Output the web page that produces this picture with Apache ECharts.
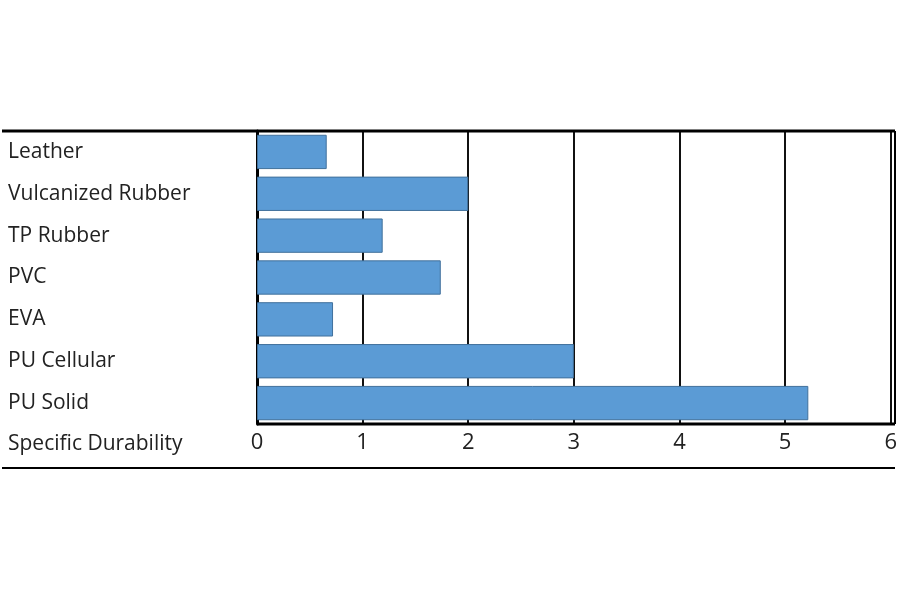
<!DOCTYPE html><html><head><meta charset="utf-8">
<script src="https://cdn.jsdelivr.net/npm/echarts@6/dist/echarts.min.js"></script>
<style>html,body{margin:0;background:#fff}#c{width:900px;height:600px}</style></head><body><div id="c"></div>
<script>
const categories = ["Leather","Vulcanized Rubber","TP Rubber","PVC","EVA","PU Cellular","PU Solid"];
const values = [0.66,2.0,1.19,1.74,0.72,3.0,5.22];
const xTicks = [0,1,2,3,4,5,6];
const axisTitle = "Specific Durability";
const F = "'Open Sans', sans-serif";
const chart = echarts.init(document.getElementById('c'));
chart.setOption({
  animation:false,
  grid:{left:257,right:5,top:131,bottom:176},
  xAxis:{type:'value',min:xTicks[0],max:xTicks[xTicks.length-1],interval:1,
    axisLine:{show:false},axisTick:{show:false},
    splitLine:{show:true,lineStyle:{color:'#111',width:2}},
    axisLabel:{color:'#222',fontSize:22,fontFamily:F,margin:8}},
  yAxis:{type:'category',data:categories,inverse:true,
    axisLine:{show:true,lineStyle:{color:'#000',width:3}},axisTick:{show:false},
    axisLabel:{color:'#222',fontSize:21,fontFamily:F,align:'left',margin:249}},
  series:[{type:'bar',data:values,barCategoryGap:'18%',
    itemStyle:{color:'#5b9bd5',borderColor:'#41719c',borderWidth:1}}],
  graphic:[
    {type:'line',shape:{x1:2,y1:131,x2:895,y2:131},style:{stroke:'#000',lineWidth:3},z:100},
    {type:'line',shape:{x1:257,y1:424,x2:895,y2:424},style:{stroke:'#000',lineWidth:3},z:100},
    {type:'line',shape:{x1:895,y1:131,x2:895,y2:424},style:{stroke:'#000',lineWidth:2},z:100},
    {type:'line',shape:{x1:2,y1:468,x2:895,y2:468},style:{stroke:'#000',lineWidth:2},z:100},
    {type:'text',left:8,top:434,style:{text:axisTitle,font:"21px 'Open Sans', sans-serif",fill:'#222'}}
  ]
});
</script></body></html>
